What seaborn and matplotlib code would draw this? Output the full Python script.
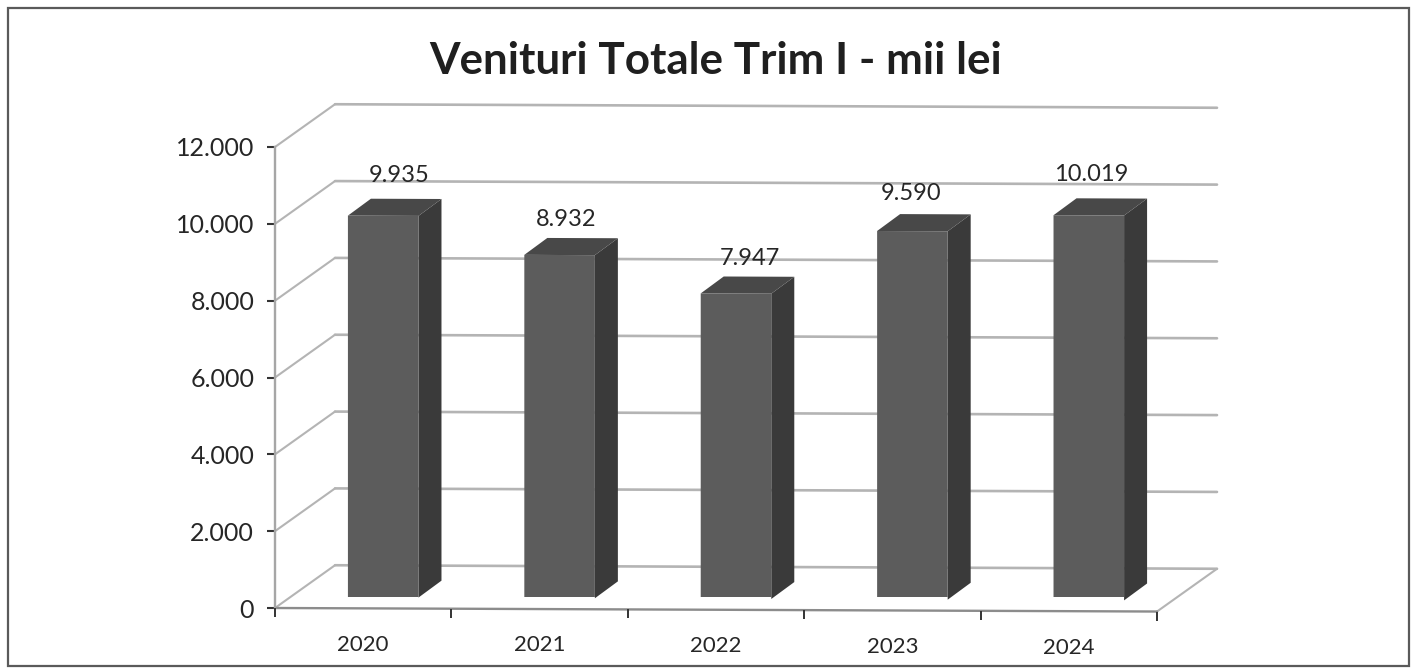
import matplotlib
matplotlib.use('Agg')
import numpy as np
import pandas as pd
import matplotlib.pyplot as plt
import seaborn as sns
from matplotlib.patches import Rectangle
from matplotlib.transforms import Affine2D, offset_copy

# data
years = ['2020', '2021', '2022', '2023', '2024']
venituri = [9935, 8932, 7947, 9590, 10019]
y_ticks = [0, 2000, 4000, 6000, 8000, 10000, 12000]
titlu = 'Venituri Totale Trim I - mii lei'

df = pd.DataFrame({'an': years, 'venituri': venituri})


def ro(v):
    return f'{v:,}'.replace(',', '.')


#=====================
# FIGURE + AXES (pixels = display units at dpi 100)
#=====================
W, H = 1417, 669
sns.set_theme(style='white')
plt.rcParams['font.family'] = ['Lato', 'DejaVu Sans']

fig = plt.figure(figsize=(W / 100, H / 100), dpi=100, facecolor='white')

left, right, top, bottom = 275, 1157, 147, 608
ax = fig.add_axes([left / W, 1 - bottom / H, (right - left) / W, (bottom - top) / H])
ax.set_xlim(-0.5, 4.5)
ax.set_ylim(0, 12000)

# bars stand a bit behind the front edge of the floor
bar_dx, bar_dy = 20, 11
bar_ax = fig.add_axes([(left + bar_dx) / W, 1 - (bottom - bar_dy) / H,
                       (right - left) / W, (bottom - top) / H])
bar_ax.patch.set_alpha(0)

# the scan is slightly tilted
tilt = 0.004
shear = Affine2D.from_values(1, -tilt, 0, 1, 0, tilt * left)

grid_col = '#b4b4b4'
text_col = '#262626'

#=====================
# WALLS AND FLOOR
#=====================
wall_dx, wall_dy = 60, 43
wall = offset_copy(ax.transData, fig, x=wall_dx, y=wall_dy, units='dots') + shear

for v in y_ticks:
    ax.plot([-0.5, 4.5], [v, v], color=grid_col, lw=1.9, transform=wall,
            clip_on=False, zorder=1)
    px, py = ax.transData.transform((-0.5, v))
    ax.plot([px, px + wall_dx], [py, py + wall_dy], color=grid_col, lw=1.5,
            transform=shear, clip_on=False, zorder=1)

# right floor edge + front edge
px, py = ax.transData.transform((4.5, 0))
ax.plot([px, px + wall_dx], [py, py + wall_dy], color=grid_col, lw=1.5,
        transform=shear, clip_on=False, zorder=1)
ax.plot([-0.5, 4.5], [0, 0], color='#8c8c8c', lw=1.7, transform=ax.transData + shear,
        clip_on=False, zorder=2)

for s in ['top', 'right', 'bottom']:
    ax.spines[s].set_visible(False)
ax.spines['left'].set_color('#a6a6a6')
ax.spines['left'].set_linewidth(1.7)

ax.set_yticks(y_ticks, [ro(v) for v in y_ticks])
ax.tick_params(axis='y', length=6, width=1.5, color='#333333', pad=9,
               labelsize=18, labelcolor=text_col, left=True)
ax.set_xticks(range(len(years)), years)
ax.tick_params(axis='x', length=0, pad=19, labelsize=16, labelcolor=text_col)
for t in ax.get_xticklabels():
    t.set_transform(t.get_transform() + shear)

# x tick marks sit between the categories
edges = np.arange(-0.5, 5, 1)
ax.plot(edges, np.zeros(len(edges)), ls='', marker=3, ms=6.5, mew=1.4, color='#333333',
        transform=ax.transData + shear, clip_on=False, zorder=3)

ax.set_xlabel('')
ax.set_ylabel('')

#=====================
# BARS
#=====================
sns.barplot(data=df, x='an', y='venituri', ax=bar_ax, color='#5c5c5c', saturation=1,
            width=0.4, order=years, linewidth=0, edgecolor='none')
bar_ax.set_xlim(-0.5, 4.5)
bar_ax.set_ylim(0, 12000)
bar_ax.axis('off')

depth_x, depth_y = 23, 17
for p in bar_ax.patches:
    bb = p.get_window_extent()
    x0, x1, y0, y1 = bb.x0, bb.x1, bb.y0, bb.y1
    p.set_transform(bar_ax.transData + shear)
    p.set_zorder(4)
    # side + top faces
    bar_ax.fill([x1, x1 + depth_x, x1 + depth_x, x1],
                [y0, y0 + depth_y, y1 + depth_y, y1],
                color='#3a3a3a', lw=0, transform=shear, clip_on=False, zorder=3)
    bar_ax.fill([x0, x0 + depth_x, x1 + depth_x, x1],
                [y1, y1 + depth_y, y1 + depth_y, y1],
                color='#484848', lw=0, transform=shear, clip_on=False, zorder=3)

# value labels sit a little off centre, each on its own
label_dx = [16, 7, 14, -1, 2]
label_dy = [40, 36, 35, 38, 41]
for i, v in enumerate(venituri):
    tr = offset_copy(bar_ax.transData + shear, fig, x=label_dx[i], y=label_dy[i], units='dots')
    bar_ax.text(i, v, ro(v), ha='center', va='center', fontsize=17, color=text_col,
                transform=tr, clip_on=False, zorder=5)

#=====================
# TITLE + FRAME
#=====================
fig.text(716 / W, 1 - 61 / H, titlu, ha='center', va='center', fontsize=31.7,
         fontweight='bold', color='#1f1f1f')
fig.add_artist(Rectangle((8 / W, 1 - 666 / H), (1409 - 8) / W, (666 - 8) / H,
                         transform=fig.transFigure, fill=False, ec='#5a5a5a', lw=1.6))

fig.savefig('out.png', dpi=100)
